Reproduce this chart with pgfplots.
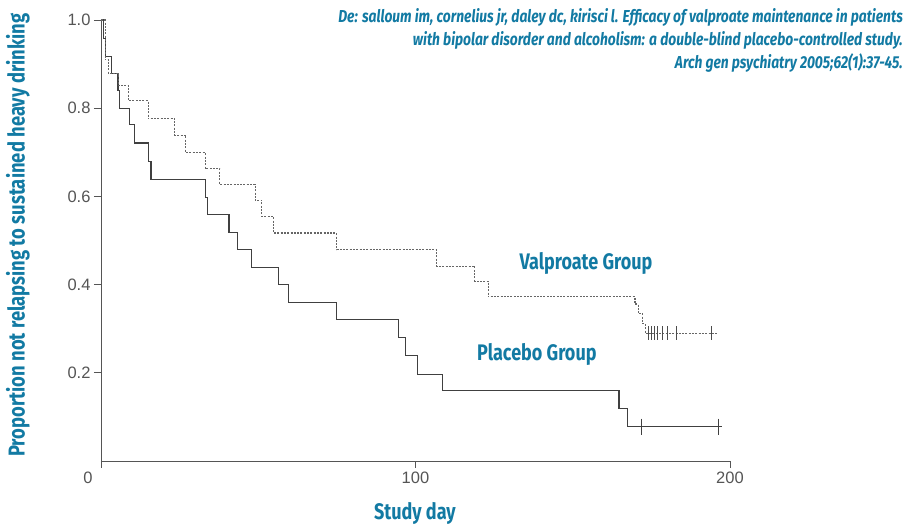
\documentclass[border=0pt]{standalone}
\usepackage{pgfplots}
\pgfplotsset{compat=1.18}
\usepackage{fontspec}
\setmainfont{Liberation Sans}
\newfontfamily\condb[FakeStretch=0.8]{Fira Sans}
\definecolor{citeblue}{RGB}{18,122,163}
\definecolor{axgray}{RGB}{85,85,85}
\begin{document}
\begin{tikzpicture}
\useasboundingbox (-101pt,-63pt) rectangle (811pt,461pt);
\begin{axis}[
  at={(0pt,0pt)}, anchor=origin,
  scale only axis, width=629pt, height=441pt,
  xmin=0, xmax=200, ymin=0, ymax=1,
  axis lines=left,
  axis line style={-, draw=axgray, line width=0.9pt},
  xtick={0,100,200}, xticklabels={,100,200},
  ytick={0.2,0.4,0.6,0.8,1.0}, yticklabels={0.2,0.4,0.6,0.8,1.0},
  tick align=outside, major tick length=7pt,
  tick style={draw=axgray, line width=0.8pt},
  ticklabel style={font=\fontsize{16.5}{16.5}\selectfont, text=axgray},
  /pgf/number format/assume math mode=true,
  xlabel={Study day},
  ylabel={Proportion not relapsing to sustained heavy drinking},
  xlabel style={at={(axis description cs:0.499,-0.118)}, anchor=center,
    font=\condb\bfseries\fontsize{22.5}{22.5}\selectfont, text=citeblue},
  ylabel style={at={(axis description cs:-0.132,0.512)}, anchor=center, rotate=0,
    font=\condb\bfseries\fontsize{23}{23}\selectfont, text=citeblue},
  clip=false,
]
% Placebo group (solid)
\addplot[const plot, draw=black!75, line width=1.1pt] coordinates {
(0,1.0) (0.8,0.958) (1.4,0.917) (3.4,0.878) (5.4,0.840) (6.0,0.800)
(9.2,0.764) (10.6,0.721) (15.0,0.679) (15.9,0.639) (33.1,0.598)
(33.9,0.559) (40.7,0.519) (43.5,0.479) (47.9,0.439) (56.4,0.400)
(59.6,0.360) (74.9,0.320) (94.5,0.280) (96.7,0.239) (100.6,0.197)
(108.5,0.159) (164.7,0.119) (167.3,0.078) (197.5,0.078)
};
\addplot[only marks, mark=|, mark size=8pt, draw=black!75, mark options={line width=0.8pt}] coordinates {
(171.7,0.078) (196.3,0.078)
};
% Valproate group (dotted)
\addplot[const plot, draw=black!60, line width=1.1pt, dash pattern=on 2pt off 1.3pt] coordinates {
(0,1.0) (1.3,0.910) (2.5,0.878) (5.5,0.851) (8.8,0.817) (15.0,0.776)
(23.5,0.739) (27.0,0.699) (33.1,0.663) (37.8,0.627) (49.0,0.591)
(51.1,0.555) (54.8,0.517) (74.9,0.479) (106.7,0.442) (118.9,0.408)
(123.2,0.372) (169.8,0.356) (170.8,0.334) (172.2,0.312) (173.0,0.290)
(195.8,0.290)
};
\addplot[only marks, mark=|, mark size=7pt, draw=black!70, mark options={line width=0.8pt}] coordinates {
(174.0,0.290) (175.0,0.290) (176.0,0.290) (177.0,0.290) (178.5,0.290)
(180.0,0.290) (183.0,0.290) (194.0,0.290)
};
\node[text=citeblue, font=\condb\bfseries\fontsize{22.5}{22.5}\selectfont] at (axis cs:154.2,0.448) {Valproate Group};
\node[text=citeblue, font=\condb\bfseries\fontsize{22.5}{22.5}\selectfont] at (axis cs:138.6,0.2415) {Placebo Group};
\node[text=axgray, font=\fontsize{16.5}{16.5}\selectfont] at (axis cs:0,0) [xshift=-13pt, yshift=-17pt] {0};
\end{axis}
\node[anchor=north east, inner sep=0pt, align=right, text=citeblue,
  font=\condb\bfseries\itshape\fontsize{17.3}{23}\selectfont] at (802pt,453pt)
  {De: salloum im, cornelius jr, daley dc, kirisci l. Efficacy of valproate maintenance in patients\\
   with bipolar disorder and alcoholism: a double-blind placebo-controlled study.\\
   Arch gen psychiatry 2005;62(1):37-45.};
\end{tikzpicture}
\end{document}
